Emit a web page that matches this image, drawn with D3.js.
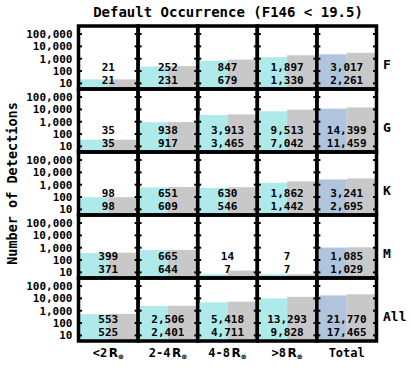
<!DOCTYPE html>
<html>
<head>
<meta charset="utf-8">
<script src="https://cdn.jsdelivr.net/npm/d3@7"></script>
<style>
  body { margin: 0; background: #fff; }
  text { font-family: "DejaVu Sans Mono", monospace; font-weight: bold; fill: #000; }
</style>
</head>
<body>
<div id="chart"></div>
<script>
// star types (rows) and planet radius bins (columns)
const rowNames = ["F", "G", "K", "M", "All"];
const colNames = ["<2", "2-4", "4-8", ">8", "Total"];
const yTicks = [10, 100, 1000, 10000, 100000];

// upper number in each cell (grey bar)
const topF   = [21, 252, 847, 1897, 3017];
const topG   = [35, 938, 3913, 9513, 14399];
const topK   = [98, 651, 630, 1862, 3241];
const topM   = [399, 665, 14, 7, 1085];
const topAll = [553, 2506, 5418, 13293, 21770];

// lower number in each cell (cyan / blue bar)
const botF   = [21, 231, 679, 1330, 2261];
const botG   = [35, 917, 3465, 7042, 11459];
const botK   = [98, 609, 546, 1442, 2695];
const botM   = [371, 644, 7, 7, 1029];
const botAll = [525, 2401, 4711, 9828, 17465];

const tops = [topF, topG, topK, topM, topAll];
const bots = [botF, botG, botK, botM, botAll];

const W = 411, H = 380;
const gLeft = 78.5, gRight = 376.5, gTop = 26, gBottom = 341;

let svg = d3.select("#chart")
  .append("svg")
    .attr("width", W)
    .attr("height", H);

let x = d3.scaleBand().domain(colNames).range([gLeft, gRight]).padding(0);
let row = d3.scaleBand().domain(rowNames).range([gTop, gBottom]).padding(0);
let y = d3.scaleLog().domain([3.5, 4.5e5]).range([row.bandwidth(), 0]);
let half = d3.scaleBand().domain(["bot", "top"]).range([0, x.bandwidth()]).padding(0);
let fmt = d3.format(",");

svg.append("text")
  .attr("x", 228).attr("y", 17)
  .attr("text-anchor", "middle")
  .style("font-size", "14px")
  .text("Default Occurrence (F146\u2009<\u200919.5)");

svg.append("text")
  .attr("transform", "translate(17," + ((gTop + gBottom) / 2) + ") rotate(-90)")
  .attr("text-anchor", "middle")
  .style("font-size", "13.5px")
  .text("Number of Detections");

rowNames.forEach((rn, i) => {
  let g = svg.append("g").attr("transform", "translate(0," + row(rn) + ")");

  colNames.forEach((cn, j) => {
    let cell = g.append("g").attr("transform", "translate(" + x(cn) + ",0)");
    let vals = [
      {k: "bot", v: bots[i][j], c: cn === "Total" ? "#b0c4de" : "#aeeaea"},
      {k: "top", v: tops[i][j], c: "#c8c8c8"}
    ];

    cell.selectAll("rect.bar")
      .data(vals)
      .enter()
      .append("rect")
      .attr("class", "bar")
      .attr("x", d => half(d.k))
      .attr("width", half.bandwidth())
      .attr("y", d => y(d.v))
      .attr("height", d => row.bandwidth() - y(d.v))
      .style("fill", d => d.c);

    // inward ticks on both sides
    cell.selectAll("line.tl")
      .data(yTicks)
      .enter()
      .append("line")
      .attr("x1", 0).attr("x2", 3.5)
      .attr("y1", d => y(d)).attr("y2", d => y(d))
      .style("stroke", "#000").style("stroke-width", 2);
    cell.selectAll("line.tr")
      .data(yTicks)
      .enter()
      .append("line")
      .attr("x1", x.bandwidth() - 3.5).attr("x2", x.bandwidth())
      .attr("y1", d => y(d)).attr("y2", d => y(d))
      .style("stroke", "#000").style("stroke-width", 2);

    cell.append("text")
      .attr("x", x.bandwidth() / 2).attr("y", 40.7)
      .attr("dy", "0.35em")
      .attr("text-anchor", "middle")
      .style("font-size", "11px")
      .text(fmt(tops[i][j]));
    cell.append("text")
      .attr("x", x.bandwidth() / 2).attr("y", 54)
      .attr("dy", "0.35em")
      .attr("text-anchor", "middle")
      .style("font-size", "11px")
      .text(fmt(bots[i][j]));

    cell.append("rect")
      .attr("width", x.bandwidth())
      .attr("height", row.bandwidth())
      .style("fill", "none")
      .style("stroke", "#000")
      .style("stroke-width", 3.5);
  });

  // tick labels on the left
  g.selectAll("text.yt")
    .data(yTicks)
    .enter()
    .append("text")
    .attr("x", gLeft - 6)
    .attr("y", d => y(d))
    .attr("dy", "0.35em")
    .attr("text-anchor", "end")
    .style("font-size", "11px")
    .text(d => fmt(d));

  g.append("text")
    .attr("x", gRight + 6.5)
    .attr("y", 38.5)
    .attr("dy", "0.35em")
    .style("font-size", "13px")
    .text(rn);
});

// column labels
let cl = svg.selectAll("text.cl")
  .data(colNames)
  .enter()
  .append("text")
  .attr("x", d => x(d) + x.bandwidth() / 2)
  .attr("y", 357)
  .attr("text-anchor", "middle")
  .style("font-size", "12px");

cl.each(function(d) {
  let t = d3.select(this);
  if (d === "Total") { t.text(d); return; }
  t.append("tspan").text(d);
  t.append("tspan").attr("dx", 1.5).style("font-family", "DejaVu Sans").text("R");
  t.append("tspan").attr("dy", 2).style("font-family", "DejaVu Sans").style("font-size", "7px").text("\u2295");
});
</script>
</body>
</html>
